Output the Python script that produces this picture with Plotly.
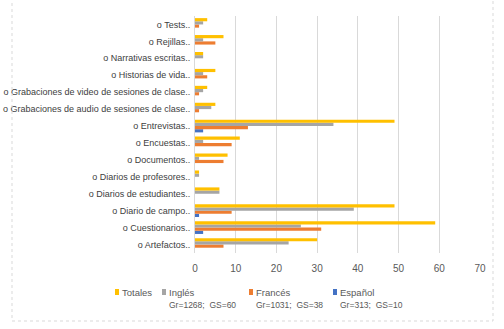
import plotly.graph_objects as go

categories = ["Artefactos", "Cuestionarios", "Diario de campo", "Diarios de estudiantes",
              "Diarios de profesores", "Documentos", "Encuestas", "Entrevistas",
              "Grabaciones de audio de sesiones de clase", "Grabaciones de video de sesiones de clase",
              "Historias de vida", "Narrativas escritas", "Rejillas", "Tests"]
labels = ["o " + c + ".." for c in categories]

totales = [30, 59, 49, 6, 1, 8, 11, 49, 5, 3, 5, 2, 7, 3]
ingles = [23, 26, 39, 6, 1, 1, 2, 34, 4, 2, 2, 2, 2, 2]
frances = [7, 31, 9, 0, 0, 7, 9, 13, 1, 1, 3, 0, 5, 1]
espanol = [0, 2, 1, 0, 0, 0, 0, 2, 0, 0, 0, 0, 0, 0]

series = ["Totales", "Inglés", "Francés", "Español"]
series_notes = ["", "Gr=1268;&nbsp;&nbsp;GS=60", "Gr=1031;&nbsp;&nbsp;GS=38", "Gr=313;&nbsp;&nbsp;GS=10"]
colors = ["#FFC000", "#A5A5A5", "#ED7D31", "#4472C4"]
x_ticks = [0, 10, 20, 30, 40, 50, 60, 70]

font = "Liberation Sans, Arial, sans-serif"
W, H = 504, 329
L, R, T, B = 195, 24, 16, 76
pw, ph = W - L - R, H - T - B

def px(x):
    return (x - L) / pw

def py(y):
    return (H - B - y) / ph

fig = go.Figure()
for name, vals, col in reversed(list(zip(series, [totales, ingles, frances, espanol], colors))):
    fig.add_trace(go.Bar(y=labels, x=vals, name=name, orientation="h", marker_color=col,
                         marker_line_width=0, showlegend=False))

fig.update_layout(
    width=W, height=H,
    barmode="group", bargap=0.25, bargroupgap=0,
    paper_bgcolor="white", plot_bgcolor="white",
    margin=dict(l=L, r=R, t=T, b=B, autoexpand=False),
    font=dict(family=font, size=9, color="#595959"),
    xaxis=dict(range=[0, 70], tickvals=x_ticks, showgrid=True, gridcolor="#D9D9D9",
               zeroline=False, ticks="", ticklabelstandoff=8, tickfont=dict(size=10, color="#595959")),
    yaxis=dict(showgrid=False, showline=True, linecolor="#D9D9D9", ticks="",
               ticklabelstandoff=2, tickfont=dict(size=9, color="#404040")),
    showlegend=False,
)

# manual legend (small square markers as in the original)
legend_x = [115, 162, 249, 333]
row1, row2 = 292, 305
for name, note, col, lx in zip(series, series_notes, colors, legend_x):
    fig.add_shape(type="rect", xref="paper", yref="paper",
                  x0=px(lx), x1=px(lx + 4), y0=py(row1 + 3), y1=py(row1 - 3),
                  fillcolor=col, line_width=0)
    fig.add_annotation(xref="paper", yref="paper", x=px(lx + 5), y=py(row1), text=name,
                       showarrow=False, xanchor="left", yanchor="middle",
                       font=dict(size=9.5, color="#595959"))
    if note:
        fig.add_annotation(xref="paper", yref="paper", x=px(lx + 5), y=py(row2), text=note,
                           showarrow=False, xanchor="left", yanchor="middle",
                           font=dict(size=8.5, color="#595959"))

fig.add_shape(type="rect", xref="paper", yref="paper", x0=px(12), x1=px(493), y0=py(321), y1=py(-5),
              line=dict(color="#D9D9D9", width=1, dash="dot"))
fig.write_html("out.html", config={"displayModeBar": False},
               post_script="document.body.style.margin='0px';")
